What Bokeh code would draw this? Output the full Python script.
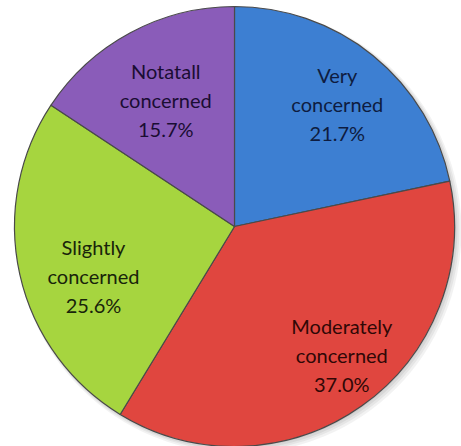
import math
from bokeh.plotting import figure
from bokeh.models import Range1d, ColumnDataSource
from bokeh.core.properties import value
from bokeh.embed import file_html
from bokeh.resources import INLINE

# Data
categories = ["Very concerned", "Moderately concerned", "Slightly concerned", "Not at all concerned"]
label_lines = [["Very", "concerned"], ["Moderately", "concerned"], ["Slightly", "concerned"], ["Notatall", "concerned"]]
percents = [21.7, 37.0, 25.6, 15.7]
colors = ["#3D7FD2", "#E0463F", "#A6D53F", "#8A5CB9"]
text_colors = ["#0e1c40", "#300806", "#18240a", "#1a0d33"]

W, H = 461, 446
CX, CY, R = 234, H - 226, 220

p = figure(width=W, height=H, output_backend="svg", toolbar_location=None,
           x_range=Range1d(0, W), y_range=Range1d(0, H), min_border=0)
p.axis.visible = False
p.grid.visible = False
p.outline_line_color = None
p.background_fill_color = "white"
p.border_fill_color = "white"

# soft shadow
for i, a in enumerate([0.05, 0.05, 0.06, 0.07]):
    p.circle(x=[CX + 4 - i], y=[CY - 4 + i], radius=R + 3 - i, fill_color="#000000",
             fill_alpha=a, line_color=None)

total = sum(percents)
starts, ends, mids = [], [], []
ang = math.pi / 2
for v in percents:
    span = v / total * 2 * math.pi
    starts.append(ang)
    ends.append(ang - span)
    mids.append(ang - span / 2)
    ang -= span

src = ColumnDataSource(dict(start=starts, end=ends, color=colors))
p.wedge(x=CX, y=CY, radius=R, start_angle="start", end_angle="end", direction="clock",
        fill_color="color", line_color="#4a4a4a", line_width=1.2, source=src)

# labels (style: radial factor and pixel nudges)
rf = [0.72, 0.75, 0.68, 0.66]
nudge = [(3, 0), (12, 6), (5, -17), (0, -1)]
lx, ly, lt, lc = [], [], [], []
for i, m in enumerate(mids):
    x = CX + rf[i] * R * math.cos(m) + nudge[i][0]
    y = CY + rf[i] * R * math.sin(m) + nudge[i][1]
    lines = label_lines[i] + [f"{percents[i]:.1f}%"]
    for j, t in enumerate(lines):
        lx.append(x)
        ly.append(y + 29 - 29 * j)
        lt.append(t)
        lc.append(text_colors[i])

p.text(x=lx, y=ly, text=lt, text_color=lc, text_align="center", text_baseline="middle",
       text_font=value("Lato"), text_font_size="20px")

open("out.html", "w").write(file_html(p, INLINE))
